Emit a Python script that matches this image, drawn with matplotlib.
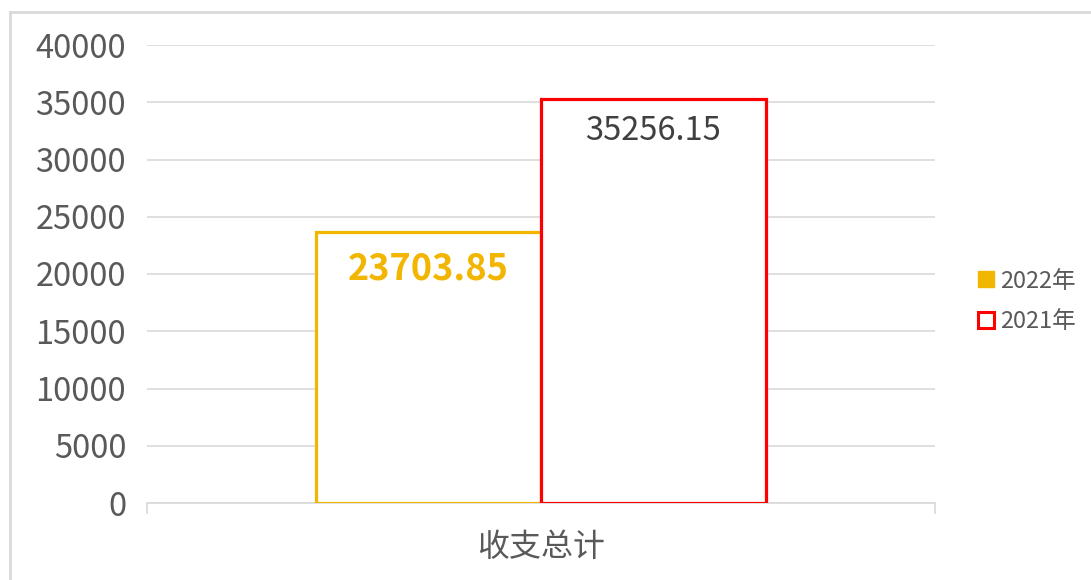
import matplotlib.pyplot as plt
from matplotlib.lines import Line2D

plt.rcParams['font.family'] = ['Noto Sans CJK SC', 'DejaVu Sans']

# Datos
categorias = ['收支总计']
series = ['2022年', '2021年']
valores = [23703.85, 35256.15]
ticks_y = [0, 5000, 10000, 15000, 20000, 25000, 30000, 35000, 40000]

colores = ['#F2B600', '#FF0000']
gris = '#595959'

fig = plt.figure(figsize=(10.91, 5.8), dpi=100)
ax = fig.add_axes([147 / 1091, 1 - 503 / 580, (935 - 147) / 1091, (503 - 45) / 580])

ancho = 0.285
posiciones = [-ancho / 2, ancho / 2]
for pos, val, col in zip(posiciones, valores, colores):
    ax.bar(pos, val, width=ancho, facecolor='white', edgecolor=col, linewidth=2.3, zorder=3)

# Etiquetas de las barras
ax.annotate(f'{valores[0]:.2f}', (posiciones[0], valores[0]), xytext=(0, -27), textcoords='offset points',
            ha='center', va='center', fontsize=26, fontweight='bold', color=colores[0], zorder=4)
ax.annotate(f'{valores[1]:.2f}', (posiciones[1], valores[1]), xytext=(0, -23), textcoords='offset points',
            ha='center', va='center', fontsize=23.5, color='#404040', zorder=4)

ax.set_xlim(-0.5, 0.5)
ax.set_ylim(0, 40000)
ax.set_yticks(ticks_y)
ax.set_yticklabels([str(t) for t in ticks_y], fontsize=23.5, color=gris)
ax.tick_params(axis='y', length=0, pad=15)
ax.yaxis.grid(True, color='#D9D9D9', linewidth=1.2, zorder=0)

ax.set_xticks([0])
ax.set_xticklabels(categorias, fontsize=23, color=gris)
ax.tick_params(axis='x', length=0, pad=20)
ax.set_xticks([-0.5, 0.5], minor=True)
ax.tick_params(axis='x', which='minor', length=8, color='#D9D9D9', width=1.2)

for lado in ['top', 'right', 'left']:
    ax.spines[lado].set_visible(False)
ax.spines['bottom'].set_color('#D9D9D9')
ax.spines['bottom'].set_linewidth(1.2)

# Leyenda
handles = [
    Line2D([], [], marker='s', linestyle='none', markersize=12, markerfacecolor=colores[0], markeredgecolor=colores[0]),
    Line2D([], [], marker='s', linestyle='none', markersize=11, markerfacecolor='white', markeredgecolor=colores[1], markeredgewidth=2.2),
]
leg = fig.legend(handles, series, loc='center left', bbox_to_anchor=(0.876, 0.48), frameon=False,
                 fontsize=17, handlelength=0.8, handletextpad=0.2, labelspacing=0.75)
for t in leg.get_texts():
    t.set_color(gris)

# Marco exterior
fig.add_artist(Line2D([10 / 1091, 1], [1 - 12 / 580, 1 - 12 / 580], transform=fig.transFigure, color='#D9D9D9', linewidth=2))
fig.add_artist(Line2D([10 / 1091, 10 / 1091], [0, 1 - 12 / 580], transform=fig.transFigure, color='#D9D9D9', linewidth=2))

plt.savefig('out.png', dpi=100)
